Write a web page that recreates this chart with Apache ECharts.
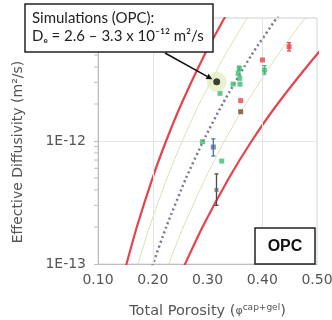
<!DOCTYPE html>
<html><head><meta charset="utf-8">
<script src="https://cdn.jsdelivr.net/npm/echarts@6/dist/echarts.min.js"></script>
<style>html,body{margin:0;padding:0;background:#fff}#c{width:332px;height:320px}</style>
</head><body><div id="c"></div>
<script>
// ---- data ----
const xTickValues = [0.1, 0.2, 0.3, 0.4, 0.5];
const xGridLines = [0.2, 0.4];
const yMinorTicks = [2e-13,3e-13,4e-13,5e-13,6e-13,7e-13,8e-13,9e-13,2e-12,3e-12,4e-12,5e-12,6e-12,7e-12,8e-12,9e-12];

const redLeft   = [[0.1464,8e-14],[0.152,1e-13],[0.1709,2e-13],[0.1996,5e-13],[0.2244,1e-12],[0.2522,2e-12],[0.2944,5e-12],[0.331,1e-11],[0.341,1.2e-11]];
const redRight  = [[0.2494,8e-14],[0.259,1e-13],[0.2909,2e-13],[0.3392,5e-13],[0.3807,1e-12],[0.4279,2e-12],[0.4989,5e-12],[0.5398,8e-12]];
const dottedMid = [[0.1933,8e-14],[0.2005,1e-13],[0.2246,2e-13],[0.2609,5e-13],[0.2923,1e-12],[0.3274,2e-12],[0.3804,5e-12],[0.4263,1e-11],[0.439,1.2e-11]];
const greenLeft = [[0.1666,8e-14],[0.173,1e-13],[0.1941,2e-13],[0.2262,5e-13],[0.2539,1e-12],[0.2849,2e-12],[0.332,5e-12],[0.3727,1e-11],[0.3842,1.2e-11]];
const greenRight= [[0.221,8e-14],[0.229,1e-13],[0.2558,2e-13],[0.2963,5e-13],[0.331,1e-12],[0.3699,2e-12],[0.4282,5e-12],[0.4784,1e-11],[0.4926,1.2e-11]];

const greenPts = [[0.358,3.9e-12],[0.356,3.55e-12],[0.359,3.23e-12],[0.3466,2.9e-12],[0.3594,2.9e-12],[0.3228,2.44e-12],[0.404,3.77e-12],[0.291,9.86e-13],[0.326,6.87e-13]];
const redPts   = [[0.449,5.85e-12],[0.4005,4.56e-12],[0.3606,2.13e-12]];
const brownPts = [[0.3606,1.73e-12]];
const bluePts  = [[0.3106,8.93e-13]];
const grayPts  = [[0.3164,4.0e-13]];
const simPts   = [[0.3168,3.03e-12]];

const blueErr  = [[0.3106,7.55e-13,1.04e-12]];
const grayErr  = [[0.3164,3.0e-13,5.4e-13]];
const redErr   = [[0.449,5.4e-12,6.3e-12]];
const greenErr = [[0.404,3.5e-12,4.1e-12],[0.358,3.75e-12,4.05e-12]];

// ---- chart ----
const chart = echarts.init(document.getElementById('c'), null, {renderer:'canvas'});
const FONT = 'DejaVu Sans';

function lineSeries(data, color, width, type, z){
  return {type:'line', data:data, smooth:0.2, showSymbol:false, symbol:'none', silent:true, z:z,
    lineStyle:{color:color, width:width, type:type}};
}
function errSeries(data, color){
  return {type:'custom', z:5, silent:true, data:data,
    renderItem:function(params, api){
      const x=api.value(0), lo=api.value(1), hi=api.value(2);
      const p1=api.coord([x,lo]), p2=api.coord([x,hi]);
      const st={stroke:color, lineWidth:1.3};
      return {type:'group', children:[
        {type:'line', shape:{x1:p1[0],y1:p1[1],x2:p2[0],y2:p2[1]}, style:st},
        {type:'line', shape:{x1:p1[0]-2,y1:p1[1],x2:p1[0]+2,y2:p1[1]}, style:st},
        {type:'line', shape:{x1:p2[0]-2,y1:p2[1],x2:p2[0]+2,y2:p2[1]}, style:st}
      ]};
    }};
}
function scat(data, color, size, z){
  return {type:'scatter', data:data, symbol:'rect', symbolSize:size, z:z, silent:true,
    itemStyle:{color:color}};
}

const option = {
  animation:false,
  grid:{left:98, right:15, top:18, bottom:56, show:true, borderColor:'#d4d4d4', borderWidth:1,
    containLabel:false, outerBoundsMode:'none'},
  xAxis:{type:'value', min:xTickValues[0], max:xTickValues[xTickValues.length-1], interval:0.1,
    axisLine:{show:true, lineStyle:{color:'#bdbdbd'}},
    axisTick:{show:false}, splitLine:{show:false},
    axisLabel:{formatter:v=>v.toFixed(2), fontFamily:FONT, fontSize:14, color:'#555', margin:9},
    name:'{a|Total Porosity (}{p|φ}{s|cap+gel}{a|)}', nameLocation:'middle', nameGap:39,
    nameTextStyle:{rich:{
      a:{fontFamily:FONT, fontSize:14.5, color:'#555', lineHeight:17},
      p:{fontFamily:FONT, fontSize:11, color:'#555', lineHeight:17},
      s:{fontFamily:FONT, fontSize:9, color:'#555', verticalAlign:'top', lineHeight:17}
    }}
  },
  yAxis:{type:'log', logBase:10, min:1e-13, max:1e-11,
    axisLine:{show:true, lineStyle:{color:'#bdbdbd'}},
    axisTick:{show:true, length:4, lineStyle:{color:'#bdbdbd'}},
    splitLine:{show:true, lineStyle:{color:'#e4e4e4'}},
    axisLabel:{formatter:v=>'1E'+Math.round(Math.log10(v)), fontFamily:FONT, fontSize:14, color:'#555', margin:12, showMaxLabel:false}
  },
  series:[
    {type:'line', data:[], markLine:{silent:true, symbol:'none', label:{show:false},
      lineStyle:{color:'#e4e4e4', type:'solid', width:1},
      data:xGridLines.map(v=>({xAxis:v}))}},
    lineSeries(greenLeft, '#cfe6bb', 1, 'solid', 2),
    lineSeries(greenRight, '#cfe6bb', 1, 'solid', 2),
    lineSeries(dottedMid, '#737a88', 2.5, [2,3], 3),
    lineSeries(redLeft, '#e8424c', 2.2, 'solid', 3),
    lineSeries(redRight, '#e8424c', 2.2, 'solid', 3),
    {type:'custom', silent:true, z:4, clip:false, data:yMinorTicks.map(v=>[xTickValues[0], v]),
      renderItem:function(params, api){
        const p=api.coord([api.value(0), api.value(1)]);
        return {type:'line', shape:{x1:p[0]-4,y1:p[1],x2:p[0],y2:p[1]}, style:{stroke:'#bdbdbd', lineWidth:1}};
      }},
    errSeries(blueErr, '#4d6fa6'),
    errSeries(grayErr, '#4a4a4a'),
    errSeries(redErr, '#e8424c'),
    errSeries(greenErr, '#3dbb72'),
    scat(greenPts, '#3dbb72', 5, 6),
    scat(redPts, '#e8424c', 5, 6),
    scat(brownPts, '#7a4433', 5, 6),
    scat(bluePts, '#4d6fa6', 5, 6),
    scat(grayPts, '#666', 4, 6),
    {type:'scatter', data:simPts, symbol:'circle', symbolSize:20, z:7, silent:true, itemStyle:{color:'rgba(220,236,180,0.8)'}},
    {type:'scatter', data:simPts, symbol:'circle', symbolSize:7, z:8, silent:true, itemStyle:{color:'#111'}}
  ]
};
chart.setOption(option);

const tip = chart.convertToPixel({gridIndex:0}, simPts[0]);
const start = [165, 53];
const ang = Math.atan2(tip[1]-start[1], tip[0]-start[0]);
const end = [tip[0]-5*Math.cos(ang), tip[1]-5*Math.sin(ang)];
const ah = 6, aw = 3;
const base = [end[0]-ah*Math.cos(ang), end[1]-ah*Math.sin(ang)];
chart.setOption({graphic:[
  {type:'text', x:18, y:152, rotation:Math.PI/2, z:100,
    style:{text:'Effective Diffusivity (m²/s)', font:'14px "DejaVu Sans"', fill:'#555', align:'center', verticalAlign:'middle'}},
  {type:'rect', z:100, shape:{x:25, y:4, width:188, height:48}, style:{fill:'#fff', stroke:'#222', lineWidth:1.5}},
  {type:'text', z:101, x:32, y:18, style:{text:'Simulations (OPC):', font:'15px Lato', fill:'#222', verticalAlign:'middle'}},
  {type:'text', z:101, x:32, y:36, style:{text:'Dₑ = 2.6 – 3.3 x 10⁻¹² m²/s', font:'15px Lato', fill:'#222', verticalAlign:'middle'}},
  {type:'line', z:100, shape:{x1:start[0], y1:start[1], x2:base[0], y2:base[1]}, style:{stroke:'#111', lineWidth:1.5}},
  {type:'polygon', z:100, shape:{points:[end,
      [base[0]+aw*Math.sin(ang), base[1]-aw*Math.cos(ang)],
      [base[0]-aw*Math.sin(ang), base[1]+aw*Math.cos(ang)]]}, style:{fill:'#111'}},
  {type:'rect', z:100, shape:{x:255, y:228, width:60, height:36}, style:{fill:'#fff', stroke:'#222', lineWidth:1.5}},
  {type:'text', z:101, x:285, y:247, style:{text:'OPC', font:'bold 16px "Liberation Sans"', fill:'#111', align:'center', verticalAlign:'middle'}}
]});
</script>
</body></html>
